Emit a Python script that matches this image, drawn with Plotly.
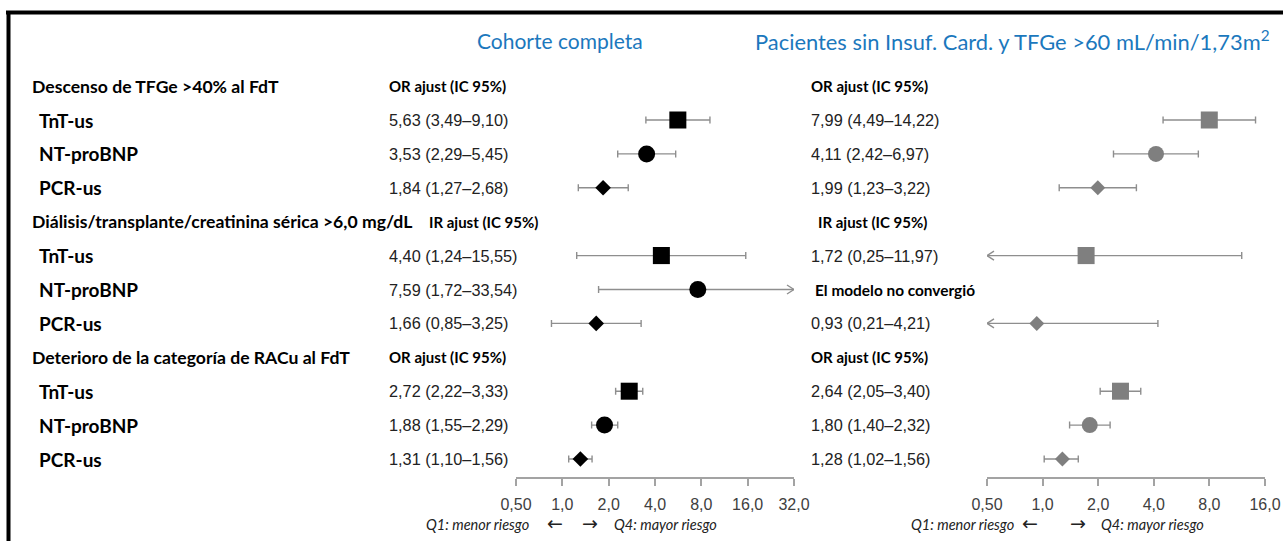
import math
import plotly.graph_objects as go

W, H = 1283, 541

# ---------------- data ----------------
groups = ["Descenso de TFGe >40% al FdT",
          "Diálisis/transplante/creatinina sérica >6,0 mg/dL",
          "Deterioro de la categoría de RACu al FdT"]
measure_left = ["OR ajust (IC 95%)", "IR ajust (IC 95%)", "OR ajust (IC 95%)"]
measure_right = ["OR ajust (IC 95%)", "IR ajust (IC 95%)", "OR ajust (IC 95%)"]
biomarkers = ["TnT-us", "NT-proBNP", "PCR-us"]

left_est = [5.63, 3.53, 1.84, 4.40, 7.59, 1.66, 2.72, 1.88, 1.31]
left_lo = [3.49, 2.29, 1.27, 1.24, 1.72, 0.85, 2.22, 1.55, 1.10]
left_hi = [9.10, 5.45, 2.68, 15.55, 33.54, 3.25, 3.33, 2.29, 1.56]

right_est = [7.99, 4.11, 1.99, 1.72, None, 0.93, 2.64, 1.80, 1.28]
right_lo = [4.49, 2.42, 1.23, 0.25, None, 0.21, 2.05, 1.40, 1.02]
right_hi = [14.22, 6.97, 3.22, 11.97, None, 4.21, 3.40, 2.32, 1.56]
no_conv_text = "El modelo no convergió"

left_ticks = [0.5, 1, 2, 4, 8, 16, 32]
left_ticktext = ["0,50", "1,0", "2,0", "4,0", "8,0", "16,0", "32,0"]
right_ticks = [0.5, 1, 2, 4, 8, 16]
right_ticktext = ["0,50", "1,0", "2,0", "4,0", "8,0", "16,0"]

title_left = "Cohorte completa"
title_right = "Pacientes sin Insuf. Card. y TFGe >60 mL/min/1,73m<sup>2</sup>"
q1_text = "Q1: menor riesgo"
q4_text = "Q4: mayor riesgo"

# ---------------- styling ----------------
BLUE = "#1b78bd"
GREY_LINE = "#a3a3a3"
WHISKER = "#8e8e8e"
LEFT_COLOR = "#000000"
RIGHT_COLOR = "#7f7f7f"
SYMBOLS = {"TnT-us": "square", "NT-proBNP": "circle", "PCR-us": "diamond"}
SIZES_L = {"TnT-us": 17, "NT-proBNP": 17, "PCR-us": 12}
SIZES_R = {"TnT-us": 17, "NT-proBNP": 16, "PCR-us": 11.5}
BOLD = "Lato"
NUMF = "Liberation Sans"

ROW0_PX, ROW_STEP = 120, 33.9
AXIS_PX, TOP_PX = 477, 69.15
LEFT_DOM_PX = (516, 794)
RIGHT_DOM_PX = (987, 1265)
ARROW_LEN_PX, ARROW_HALF_PX = 7, 4.5


def px_x(p):
    return p / W


def px_y(p):
    return 1 - p / H


row_pos = []
header_pos = []
for g in range(len(groups)):
    header_pos.append(4 * g - 1)
    for k in range(len(biomarkers)):
        row_pos.append(4 * g + k)
row_names = biomarkers * len(groups)

y_bottom = (AXIS_PX - ROW0_PX) / ROW_STEP
y_top = (TOP_PX - ROW0_PX) / ROW_STEP


def fmt(v):
    return f"{v:.2f}".replace(".", ",")


fig = go.Figure()

panels = [
    ("x", left_est, left_lo, left_hi, left_ticks, LEFT_COLOR, SIZES_L, LEFT_DOM_PX),
    ("x2", right_est, right_lo, right_hi, right_ticks, RIGHT_COLOR, SIZES_R, RIGHT_DOM_PX),
]

for xa, est, lo, hi, ticks, col, sizes, dom in panels:
    px_per_dec = (dom[1] - dom[0]) / (math.log10(ticks[-1]) - math.log10(ticks[0]))
    dlog = ARROW_LEN_PX / px_per_dec
    dy = ARROW_HALF_PX / ROW_STEP
    xs, ys, plus, minus, syms, szs = [], [], [], [], [], []
    ax_, ay_ = [], []
    for i, e in enumerate(est):
        if e is None:
            continue
        xs.append(e)
        ys.append(row_pos[i])
        plus.append(hi[i] - e)
        minus.append(e - lo[i])
        syms.append(SYMBOLS[row_names[i]])
        szs.append(sizes[row_names[i]])
        # chevron heads where the interval runs past the axis ends
        if lo[i] < ticks[0]:
            tip = ticks[0]
            back = 10 ** (math.log10(tip) + dlog)
            ax_ += [back, tip, back, None]
            ay_ += [row_pos[i] - dy, row_pos[i], row_pos[i] + dy, None]
        if hi[i] > ticks[-1]:
            tip = ticks[-1]
            back = 10 ** (math.log10(tip) - dlog)
            ax_ += [back, tip, back, None]
            ay_ += [row_pos[i] - dy, row_pos[i], row_pos[i] + dy, None]
    fig.add_trace(go.Scatter(
        x=xs, y=ys, xaxis=xa, yaxis="y", mode="markers",
        marker=dict(symbol=syms, size=szs, color=col, opacity=1, line=dict(width=0)),
        error_x=dict(type="data", symmetric=False, array=plus, arrayminus=minus,
                     color=WHISKER, thickness=1.4, width=3.5),
        hoverinfo="skip", showlegend=False))
    if ax_:
        fig.add_trace(go.Scatter(
            x=ax_, y=ay_, xaxis=xa, yaxis="y", mode="lines",
            line=dict(color=WHISKER, width=1.4), hoverinfo="skip", showlegend=False))

annotations = []


def ann(x, y, text, size, family, color="#000", xanchor="left", yref="y", **kw):
    annotations.append(dict(xref="paper", yref=yref, x=x, y=y, text=text, showarrow=False,
                            xanchor=xanchor, yanchor="middle", borderpad=0,
                            font=dict(family=family, size=size, color=color), **kw))


ann(px_x(560), px_y(40), title_left, 21, BOLD, BLUE, xanchor="center", yref="paper")
ann(px_x(754), px_y(40), title_right, 21.9, BOLD, BLUE, yref="paper")

meas_left_x = [388, 428, 388]
meas_right_x = [810, 817, 810]
for g, name in enumerate(groups):
    ann(px_x(31), header_pos[g], f"<b>{name}</b>", 17.6, BOLD)
    ann(px_x(meas_left_x[g]), header_pos[g], f"<b>{measure_left[g]}</b>", 15, BOLD)
    ann(px_x(meas_right_x[g]), header_pos[g], f"<b>{measure_right[g]}</b>", 15, BOLD)

for i, p in enumerate(row_pos):
    ann(px_x(38), p, f"<b>{row_names[i]}</b>", 19, BOLD)
    ann(px_x(388), p, f"{fmt(left_est[i])} ({fmt(left_lo[i])}–{fmt(left_hi[i])})", 16.3, NUMF, "#222")
    if right_est[i] is None:
        ann(px_x(814), p, f"<b>{no_conv_text}</b>", 15.4, BOLD)
    else:
        ann(px_x(810), p, f"{fmt(right_est[i])} ({fmt(right_lo[i])}–{fmt(right_hi[i])})", 16.3, NUMF, "#222")

for (q1r, la, ra, q4l) in [(530, 555, 590, 613), (1015, 1030, 1078, 1100)]:
    ann(px_x(q1r), px_y(524), f"<i>{q1_text}</i>", 14.5, BOLD, "#222", xanchor="right", yref="paper")
    ann(px_x(la), px_y(523), "←", 19, "DejaVu Sans", "#222", xanchor="center", yref="paper")
    ann(px_x(ra), px_y(523), "→", 19, "DejaVu Sans", "#222", xanchor="center", yref="paper")
    ann(px_x(q4l), px_y(524), f"<i>{q4_text}</i>", 14.5, BOLD, "#222", yref="paper")

axis_common = dict(type="log", showgrid=False, zeroline=False, showline=True,
                   linecolor=GREY_LINE, linewidth=1.5, ticks="outside", ticklen=7,
                   tickwidth=1.5, tickcolor=GREY_LINE, anchor="y",
                   tickfont=dict(family=NUMF, size=16, color="#404040"),
                   ticklabelstandoff=5, fixedrange=True)

shapes = []
for xa in ["x", "x2"]:
    shapes.append(dict(type="line", xref=xa, yref="y", x0=0, x1=0, y0=-0.53, y1=y_bottom,
                       line=dict(color=GREY_LINE, width=1.5), layer="below"))
shapes.append(dict(type="line", xref="paper", yref="paper", x0=px_x(6), x1=1,
                   y0=px_y(12.5), y1=px_y(12.5), line=dict(color="#000", width=4)))
shapes.append(dict(type="line", xref="paper", yref="paper", x0=px_x(8.5), x1=px_x(8.5),
                   y0=px_y(11), y1=0, line=dict(color="#000", width=4)))

fig.update_layout(
    width=W, height=H, autosize=False, margin=dict(l=0, r=0, t=0, b=0, autoexpand=False),
    paper_bgcolor="white", plot_bgcolor="white", showlegend=False,
    xaxis=dict(domain=[px_x(LEFT_DOM_PX[0]), px_x(LEFT_DOM_PX[1])],
               range=[math.log10(left_ticks[0]), math.log10(left_ticks[-1])],
               tickvals=left_ticks, ticktext=left_ticktext, **axis_common),
    xaxis2=dict(domain=[px_x(RIGHT_DOM_PX[0]), px_x(RIGHT_DOM_PX[1])],
                range=[math.log10(right_ticks[0]), math.log10(right_ticks[-1])],
                tickvals=right_ticks, ticktext=right_ticktext, **axis_common),
    yaxis=dict(domain=[px_y(AXIS_PX), px_y(TOP_PX)], range=[y_bottom, y_top],
               visible=False, fixedrange=True),
    annotations=annotations, shapes=shapes,
)

fig.write_html("out.html", config={"displayModeBar": False, "responsive": False})
